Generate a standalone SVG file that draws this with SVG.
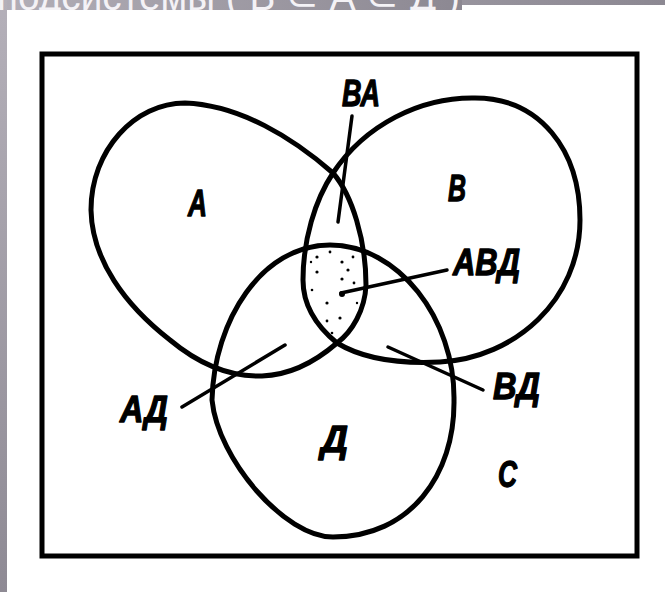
<svg xmlns="http://www.w3.org/2000/svg" width="665" height="592" viewBox="0 0 665 592">
<style>
.set{fill:none;stroke:#000;stroke-width:5;stroke-linejoin:round}
.ptr{fill:none;stroke:#000;stroke-width:3.5;stroke-linecap:round}
.lbl{font-family:"Liberation Sans",Arial,sans-serif;font-weight:bold;font-style:italic;font-size:36px;fill:#000;stroke:#000;stroke-width:1.3;stroke-linejoin:round}
.title{font-family:"Liberation Sans",Arial,sans-serif;font-size:40px;fill:#f4f2f6}
</style>
<defs>
<linearGradient id="gTop" x1="0" y1="0" x2="1" y2="0">
<stop offset="0" stop-color="#b2aeb7"/>
<stop offset="1" stop-color="#8c8892"/>
</linearGradient>
<linearGradient id="gLeft" x1="0" y1="0" x2="0" y2="1">
<stop offset="0" stop-color="#b4b0b9"/>
<stop offset="1" stop-color="#8e8a94"/>
</linearGradient>
<clipPath id="band"><rect x="0" y="0" width="462" height="10"/></clipPath>
</defs>
<rect x="0" y="0" width="665" height="592" fill="#fff"/>
<rect x="0" y="0" width="665" height="5" fill="url(#gTop)"/>
<rect x="0" y="0" width="462" height="10" fill="url(#gTop)"/>
<rect x="0" y="0" width="7" height="592" fill="url(#gLeft)"/>
<text class="title" x="-3" y="10" textLength="463" lengthAdjust="spacingAndGlyphs" clip-path="url(#band)">подсистемы ( В ⊂ А ⊂ Д )</text>

<g id="frame"><rect x="42" y="54" width="595" height="502" fill="none" stroke="#000" stroke-width="5"/></g>

<g id="shade-ABD" fill="#000">
<circle cx="317" cy="257" r="1.6"/><circle cx="330" cy="252" r="1.4"/><circle cx="342" cy="262" r="1.6"/>
<circle cx="353" cy="257" r="1.4"/><circle cx="317" cy="272" r="1.6"/><circle cx="348" cy="270" r="1.6"/>
<circle cx="342" cy="279" r="1.6"/><circle cx="354" cy="283" r="1.4"/><circle cx="312" cy="290" r="1.3"/>
<circle cx="327" cy="303" r="1.6"/><circle cx="340" cy="318" r="1.6"/><circle cx="327" cy="321" r="1.4"/>
<circle cx="311" cy="262" r="1.2"/><circle cx="310" cy="308" r="1.2"/><circle cx="332" cy="333" r="1.3"/>
<circle cx="357" cy="303" r="1.2"/><circle cx="342" cy="294" r="3"/>
</g>

<g id="node-A"><path class="set" d="M333,173 C352,195 366,240 366,285 C365,310 352,332 337,343 C315,362 290,375 262,376 C230,377 200,365 170,340 C125,305 92,260 91,210 C91,150 135,103 185,103 C240,105 293,138 333,173 Z"/></g>
<g id="node-B"><path class="set" d="M333,173 C365,125 420,97 475,98 C540,98 580,150 580,220 C580,300 515,358 440,362 C400,364 365,360 337,343 C315,325 303,305 303,280 C303,240 315,200 333,173 Z"/></g>
<g id="node-D"><path class="set" d="M330,245 C398,245 455,318 454,400 C455,475 410,537 333,537 C285,537 218,460 212,400 C214,320 262,245 330,245 Z"/></g>

<g id="connectors">
<line class="ptr" x1="352" y1="116" x2="338" y2="222"/>
<line class="ptr" x1="447" y1="270" x2="341" y2="293"/>
<line class="ptr" x1="182" y1="407" x2="285" y2="345"/>
<line class="ptr" x1="388" y1="347" x2="483" y2="390"/>
</g>

<g id="labels">
<text class="lbl" x="188" y="216" textLength="19" lengthAdjust="spacingAndGlyphs">А</text>
<text class="lbl" x="448" y="201" textLength="18" lengthAdjust="spacingAndGlyphs">В</text>
<text class="lbl" x="342" y="106" textLength="38" lengthAdjust="spacingAndGlyphs">ВА</text>
<text class="lbl" x="453" y="275" textLength="67" lengthAdjust="spacingAndGlyphs">АВД</text>
<text class="lbl" x="120" y="422" textLength="48" lengthAdjust="spacingAndGlyphs">АД</text>
<text class="lbl" x="493" y="399" textLength="47" lengthAdjust="spacingAndGlyphs">ВД</text>
<text class="lbl" x="321" y="452" textLength="27" lengthAdjust="spacingAndGlyphs">Д</text>
<text class="lbl" x="498" y="487" textLength="19" lengthAdjust="spacingAndGlyphs">С</text>
</g>
</svg>
